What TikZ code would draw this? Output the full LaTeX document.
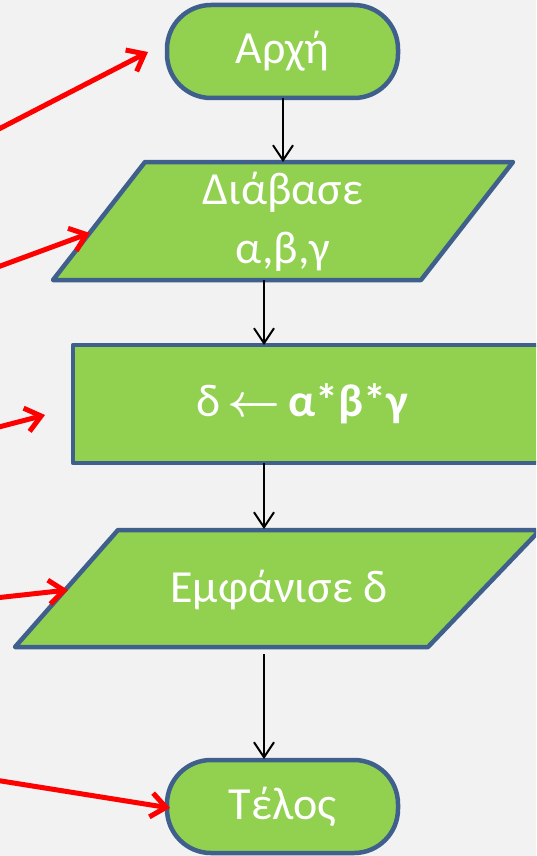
\documentclass[tikz,border=0pt]{standalone}
\usepackage{fix-cm}
\usepackage{fontspec}
\setmainfont{Carlito}
\usetikzlibrary{arrows.meta}
\definecolor{bg}{HTML}{F2F2F2}
\definecolor{boxfill}{HTML}{92D050}
\definecolor{boxline}{HTML}{3F5F8C}
\definecolor{redarr}{HTML}{FF0000}
\tikzset{
  shapebox/.style={fill=boxfill, draw=boxline, line width=4.5pt, line join=round},
  lbl/.style={text=white, font=\fontsize{46}{59}\selectfont, align=center, inner sep=0pt},
  flow/.style={draw=black, line width=2pt, -{Straight Barb[length=15pt,width=20pt]}},
  pointer/.style={draw=redarr, line width=5pt, line cap=round, -{Straight Barb[length=15pt,width=24pt]}},
}
\begin{document}
\begin{tikzpicture}[x=1pt, y=-1pt]
\fill[bg] (0,0) rectangle (536,856);
\useasboundingbox (0,0) rectangle (536,856);
\clip (0,0) rectangle (536,856);
% shapes
\draw[shapebox, rounded corners=44pt] (167,5) rectangle (398,98);
\node[lbl] (start) at (282.5,51.5) {Αρχή};
\draw[shapebox] (145,162) -- (513,162) -- (421,280) -- (53,280) -- cycle;
\node[lbl] (read) at (283,222) {Διάβασε\\α,β,γ};
\draw[shapebox] (73,345) rectangle (560,463);
\node[lbl] (proc) at (302,404) {δ\,{\boldmath$\leftarrow$}\,\textbf{α*β*γ}};
\draw[shapebox] (118,530) -- (540,530) -- (428,647) -- (15,647) -- cycle;
\node[lbl] (out) at (279,590) {Εμφάνισε δ};
\draw[shapebox, rounded corners=44pt] (167,760) rectangle (398,853);
\node[lbl] (end) at (282.5,806.5) {Τέλος};
% connector anchors
\coordinate (s1) at (283,98);  \coordinate (e1) at (283,162);
\coordinate (s2) at (264,280); \coordinate (e2) at (264,345);
\coordinate (s3) at (264,463); \coordinate (e3) at (264,529);
\coordinate (s4) at (264,654); \coordinate (e4) at (264,759);
\draw[flow] (s1) -- (e1);
\draw[flow] (s2) -- (e2);
\draw[flow] (s3) -- (e3);
\draw[flow] (s4) -- (e4);
% red pointers
\coordinate (r1s) at (-5,131);  \coordinate (r1e) at (148,52);
\coordinate (r2s) at (-5,268);  \coordinate (r2e) at (90,233);
\coordinate (r3s) at (-5,428);  \coordinate (r3e) at (45,415);
\coordinate (r4s) at (-5,598);  \coordinate (r4e) at (68,590);
\coordinate (r5s) at (-5,780);  \coordinate (r5e) at (170,808);
\draw[pointer] (r1s) -- (r1e);
\draw[pointer] (r2s) -- (r2e);
\draw[pointer] (r3s) -- (r3e);
\draw[pointer] (r4s) -- (r4e);
\draw[pointer] (r5s) -- (r5e);
\end{tikzpicture}
\end{document}
